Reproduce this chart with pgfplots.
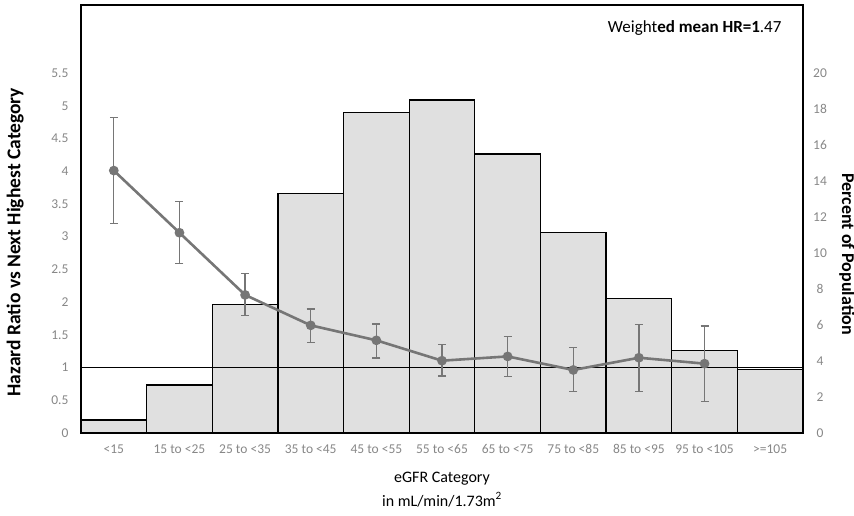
\documentclass[border=0pt]{standalone}
\usepackage{pgfplots}
\usepackage{pgfplotstable}
\pgfplotsset{compat=1.18}
\usepackage{fontspec}
\setmainfont{Carlito}
\definecolor{barfill}{RGB}{224,224,224}
\definecolor{hrgray}{RGB}{118,118,118}
\definecolor{ticklab}{RGB}{135,135,135}

\pgfplotstableread{
x pct
0 0.72
1 2.67
2 7.15
3 13.3
4 17.8
5 18.5
6 15.5
7 11.15
8 7.46
9 4.6
10 3.52
}\pctdata

\pgfplotstableread{
x hr ep em
0 4.01 0.81 0.81
1 3.06 0.48 0.47
2 2.11 0.33 0.32
3 1.645 0.25 0.26
4 1.416 0.25 0.27
5 1.105 0.245 0.235
6 1.17 0.31 0.31
7 0.963 0.34 0.33
8 1.15 0.505 0.52
9 1.06 0.575 0.58
}\hrdata

\pgfplotsset{common/.style={
  width=722pt, height=428pt, scale only axis,
  xmin=-0.5, xmax=10.5,
  at={(81pt,83pt)}, anchor=south west,
  major tick length=0pt,
  /pgf/number format/assume math mode=true,
  tick label style={font=\fontsize{13.5}{13.5}\selectfont, text=ticklab},
}}

\begin{document}
\begin{tikzpicture}
\useasboundingbox (0,0) rectangle (854pt,516pt);
% bars on right axis
\begin{axis}[common,
  axis y line*=right, axis x line=none,
  y axis line style={draw=none},
  ymin=0, ymax=23.78,
  ytick={0,2,...,20},
  yticklabel style={xshift=17pt, anchor=center},
  ylabel={\bfseries Percent of Population},
  ylabel style={at={(axis description cs:1.061,0.418)}, anchor=center, rotate=180, font=\fontsize{18}{18}\selectfont},
]
\addplot[ybar, bar width=1, fill=barfill, draw=black, line width=1.3pt] table[x=x, y=pct]{\pctdata};
\end{axis}
% HR on left axis
\begin{axis}[common,
  axis line style={line width=2.5pt},
  ymin=0, ymax=6.54,
  ytick={0,0.5,...,5.5},
  yticklabel style={xshift=-9pt},
  xtick={0,...,10},
  xticklabels={{<15},{15 to <25},{25 to <35},{35 to <45},{45 to <55},{55 to <65},{65 to <75},{75 to <85},{85 to <95},{95 to <105},{>=105}},
  xticklabel style={yshift=-8pt},
  ylabel={\bfseries Hazard Ratio vs Next Highest Category},
  ylabel style={at={(axis description cs:-0.091,0.446)}, anchor=center, font=\fontsize{19.5}{19.5}\selectfont},
  xlabel={eGFR Category\\in mL/min/1.73m\textsuperscript{2}},
  xlabel style={at={(axis description cs:0.5,-0.082)}, anchor=north, align=center, font=\fontsize{16}{24}\selectfont},
]
\addplot[black, line width=1.3pt, forget plot] coordinates {(-0.5,1) (10.5,1)};
\addplot[hrgray, line width=2.6pt, mark=*, mark size=3.5pt,
  error bars/.cd, y dir=both, y explicit,
  error bar style={hrgray, line width=1.2pt},
  error mark options={rotate=90, mark size=4pt, hrgray, line width=1.2pt}]
  table[x=x, y=hr, y error plus=ep, y error minus=em]{\hrdata};
\node[anchor=center, font=\fontsize{17}{17}\selectfont] at (axis description cs:0.850,0.946) {Weight\textbf{ed mean HR=1}.47};
\end{axis}
\end{tikzpicture}
\end{document}
